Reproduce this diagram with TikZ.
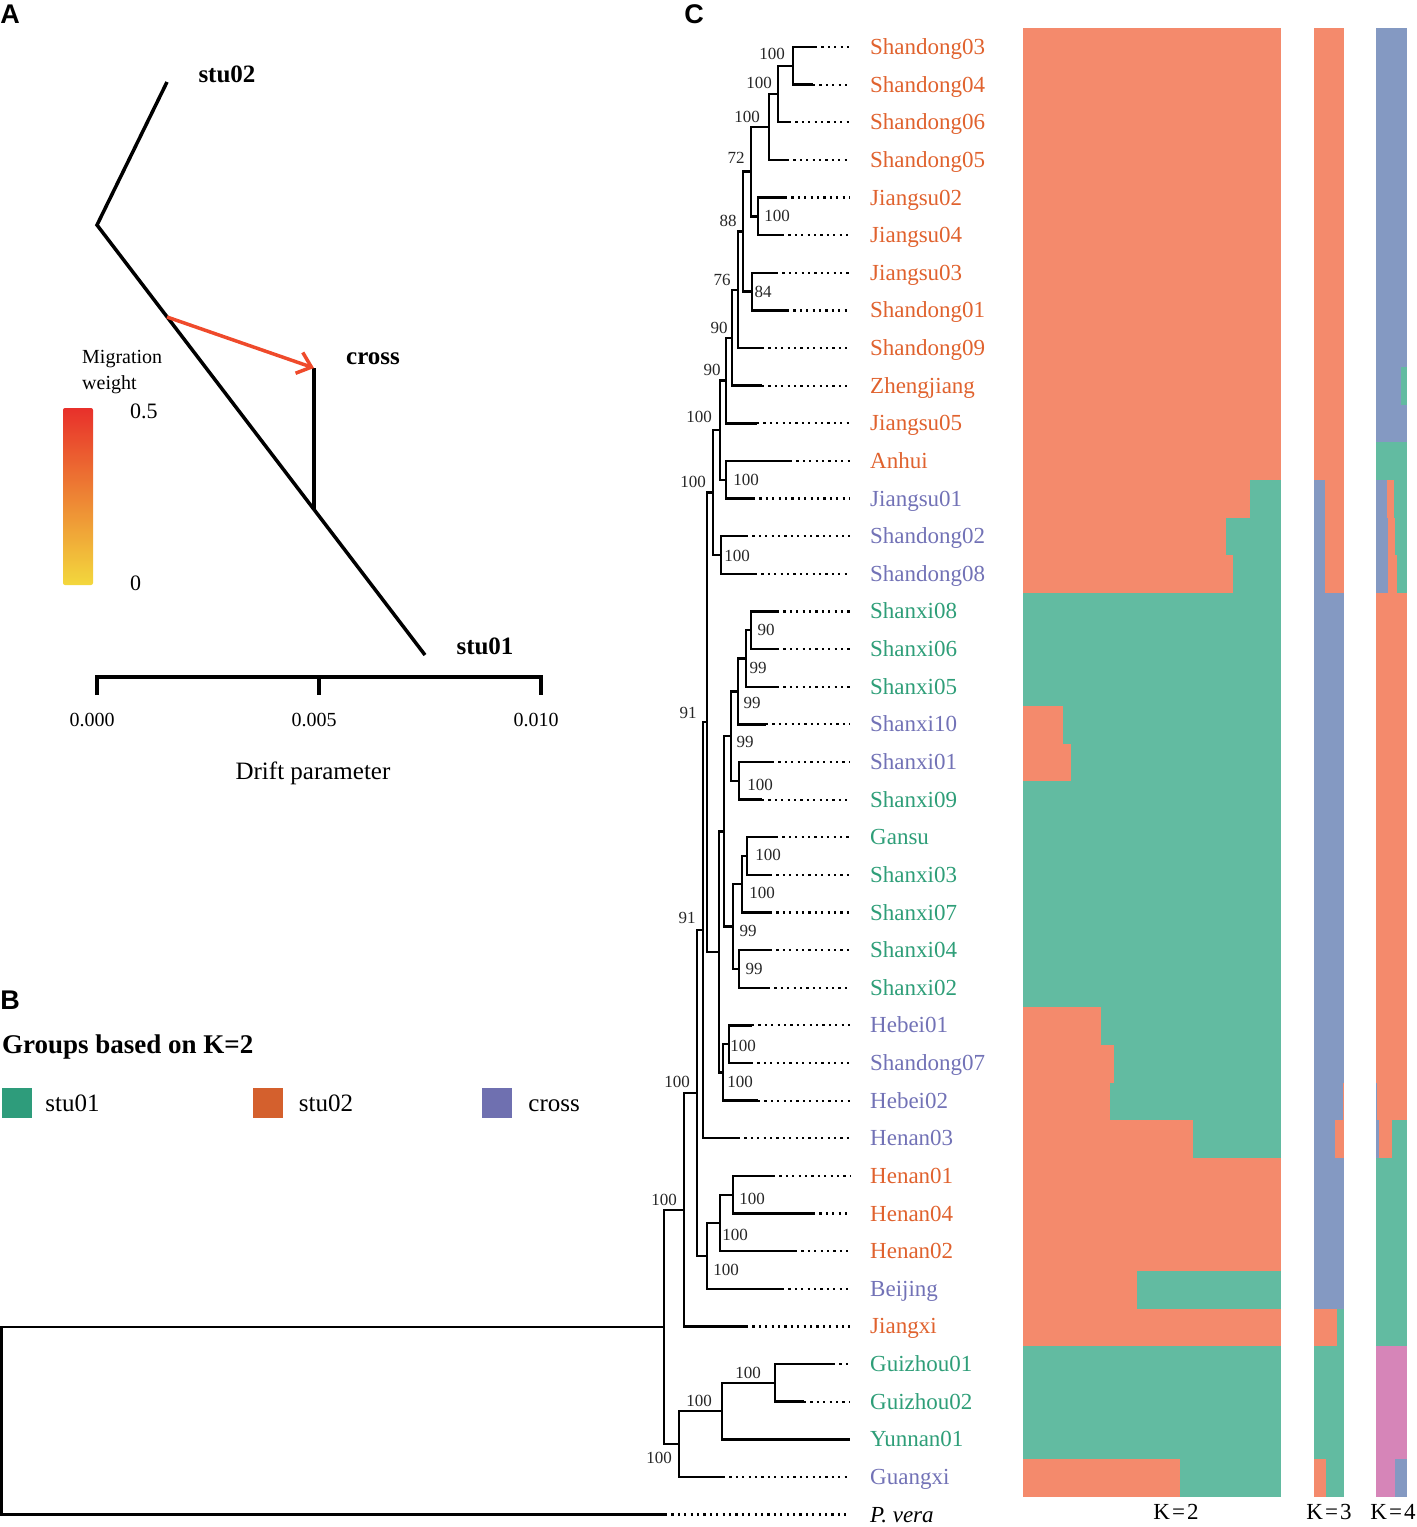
\documentclass[tikz,border=0pt]{standalone}
\usepackage{fontspec}
\setmainfont{Liberation Serif}
\setsansfont{Liberation Sans}
\usetikzlibrary{calc,positioning,arrows.meta}
\definecolor{korange}{HTML}{F48A6C}
\definecolor{kgreen}{HTML}{62BBA1}
\definecolor{kblue}{HTML}{8499C2}
\definecolor{kpink}{HTML}{D685B8}
\definecolor{txor}{HTML}{E0622E}
\definecolor{txbl}{HTML}{7272B6}
\definecolor{txgr}{HTML}{2E9E78}
\definecolor{legr}{HTML}{2E9C7B}
\definecolor{leor}{HTML}{D4602D}
\definecolor{lebl}{HTML}{6F70B0}
\definecolor{migred}{HTML}{EF4A2B}
\definecolor{cbtop}{HTML}{E8302B}
\definecolor{cbmid}{HTML}{F08A35}
\definecolor{cbbot}{HTML}{F3D83D}
\tikzset{
  branch/.style = {line width=2.4pt},
  dots/.style = {line width=2.2pt, dash pattern=on 2.2pt off 4.2pt},
  taxon/.style = {anchor=west, inner xsep=20pt, inner ysep=0pt,
    text height=15pt, text depth=0pt, font=\fontsize{23}{27}\selectfont},
  boot/.style = {inner sep=0pt, text=black!85, font=\fontsize{17}{20}\selectfont},
  panel/.style = {inner sep=0pt, font=\sffamily\bfseries\fontsize{27}{30}\selectfont},
  popname/.style = {inner sep=0pt, font=\bfseries\fontsize{25}{28}\selectfont},
  drift/.style = {line width=3.5pt},
  migration/.style = {line width=3.5pt, migred, -{Straight Barb[length=13pt,width=22pt]}},
  ticklab/.style = {inner sep=0pt, font=\fontsize{20}{24}\selectfont},
  legbox/.style = {minimum width=30pt, minimum height=30pt, inner sep=0pt},
  legtext/.style = {inner sep=0pt, text height=16pt, text depth=0pt, font=\fontsize{25}{28}\selectfont},
  klab/.style = {inner sep=0pt, font=\fontsize{23}{27}\selectfont}
}
% tip of the tree: name, row, end of solid branch, colour, text
\newcommand\leaf[5]{%
  \coordinate (#1) at (#3,{47+37.63*#2});
  \node[taxon,text=#4] (#1-name) at (850,{47+37.63*#2}) {#5};
  \draw[dots] (#1) -- (#1-name);
}
% inner node: name, x, two children
\newcommand\clade[4]{%
  \path let \p1=(#3), \p2=(#4) in (#2pt,{0.5*(\y1+\y2)}) coordinate (#1);
  \draw[branch] (#3) -| (#1) |- (#4);
}
% bar segment: colour, x from, x to, first row, last row
\newcommand\seg[5]{\fill[#1] (#2,{28+37.667*#4}) rectangle (#3,{28+37.667*(#5+1)});}

\begin{document}
\begin{tikzpicture}[x=1pt,y=-1pt]
\useasboundingbox (0,0) rectangle (1417,1527);

% ---- A: treemix
\node[panel] (pA) at (10,14) {A};
\coordinate (s2tip) at (167,82);
\coordinate (rootA) at (97,225);
\coordinate (s1tip) at (425,655);
\coordinate (crossbase) at (314,509.5);
\coordinate (crosstip) at (314,368);
\coordinate (migfrom) at (167,317);
\draw[drift] (s2tip) -- (rootA) -- (s1tip);
\draw[drift] (crossbase) -- (crosstip);
\draw[migration] (migfrom) -- (crosstip);
\node[popname] (stu02) at (227,74) {stu02};
\node[popname] (cross) at (373,359) {cross};
\node[popname] (stu01) at (485,646) {stu01};
\node[anchor=west, align=left, inner sep=0pt, font=\fontsize{20}{26}\selectfont] (migw) at (82,372) {Migration\\weight};
\shade[top color=cbtop, middle color=cbmid, bottom color=cbbot, rounded corners=2pt] (63,408) rectangle (93,585);
\node[anchor=west, inner sep=0pt, font=\fontsize{22}{26}\selectfont] (wmax) at (130,411) {0.5};
\node[anchor=west, inner sep=0pt, font=\fontsize{22}{26}\selectfont] (wmin) at (130,583) {0};
\draw[drift] (97,695) -- (97,677) -- (541,677) -- (541,695);
\draw[drift] (319,677) -- (319,695);
\node[ticklab] (t0) at (92,720) {0.000};
\node[ticklab] (t1) at (314,720) {0.005};
\node[ticklab] (t2) at (536,720) {0.010};
\node[inner sep=0pt, font=\fontsize{25}{28}\selectfont] (xlab) at (313,773) {Drift parameter};

% ---- B: legend
\node[panel] (pB) at (10,1000) {B};
\node[anchor=west, inner sep=0pt, font=\bfseries\fontsize{27}{30}\selectfont] (ltitle) at (2,1047) {Groups based on K=2};
\node[legbox, fill=legr] (g1) at (17,1103) {};
\node[legtext, right=13pt of g1] {stu01};
\node[legbox, fill=leor] (g2) at (267.5,1103) {};
\node[legtext, right=16pt of g2] {stu02};
\node[legbox, fill=lebl] (g3) at (497,1103) {};
\node[legtext, right=16pt of g3] {cross};

% ---- C: tree
\node[panel] (pC) at (694,14) {C};
\leaf{sd03}{0}{815}{txor}{Shandong03}
\leaf{sd04}{1}{813}{txor}{Shandong04}
\leaf{sd06}{2}{789}{txor}{Shandong06}
\leaf{sd05}{3}{787}{txor}{Shandong05}
\leaf{js02}{4}{785}{txor}{Jiangsu02}
\leaf{js04}{5}{782}{txor}{Jiangsu04}
\leaf{js03}{6}{776}{txor}{Jiangsu03}
\leaf{sd01}{7}{787}{txor}{Shandong01}
\leaf{sd09}{8}{762}{txor}{Shandong09}
\leaf{zj}{9}{762}{txor}{Zhengjiang}
\leaf{js05}{10}{757}{txor}{Jiangsu05}
\leaf{ah}{11}{790}{txor}{Anhui}
\leaf{js01}{12}{753}{txbl}{Jiangsu01}
\leaf{sd02}{13}{746}{txbl}{Shandong02}
\leaf{sd08}{14}{755}{txbl}{Shandong08}
\leaf{sx08}{15}{777}{txgr}{Shanxi08}
\leaf{sx06}{16}{777}{txgr}{Shanxi06}
\leaf{sx05}{17}{777}{txgr}{Shanxi05}
\leaf{sx10}{18}{766}{txbl}{Shanxi10}
\leaf{sx01}{19}{772}{txbl}{Shanxi01}
\leaf{sx09}{20}{762}{txgr}{Shanxi09}
\leaf{gs}{21}{776}{txgr}{Gansu}
\leaf{sx03}{22}{770}{txgr}{Shanxi03}
\leaf{sx07}{23}{770}{txgr}{Shanxi07}
\leaf{sx04}{24}{770}{txgr}{Shanxi04}
\leaf{sx02}{25}{768}{txgr}{Shanxi02}
\leaf{hb01}{26}{752}{txbl}{Hebei01}
\leaf{sd07}{27}{751}{txbl}{Shandong07}
\leaf{hb02}{28}{758}{txbl}{Hebei02}
\leaf{hn03}{29}{738}{txbl}{Henan03}
\leaf{hn01}{30}{773}{txor}{Henan01}
\leaf{hn04}{31}{813}{txor}{Henan04}
\leaf{hn02}{32}{795}{txor}{Henan02}
\leaf{bj}{33}{782}{txbl}{Beijing}
\leaf{jx}{34}{746}{txor}{Jiangxi}
\leaf{gz01}{35}{833}{txgr}{Guizhou01}
\leaf{gz02}{36}{804}{txgr}{Guizhou02}
\leaf{yn01}{37}{850}{txgr}{Yunnan01}
\leaf{gx}{38}{723}{txbl}{Guangxi}
\leaf{pv}{39}{665}{black}{\textit{P. vera}}

\clade{c1}{793}{sd03}{sd04}
\clade{c2}{778}{c1}{sd06}
\clade{c3}{769}{c2}{sd05}
\clade{c4}{758}{js02}{js04}
\clade{c5}{751}{c3}{c4}
\clade{c6}{752}{js03}{sd01}
\clade{c7}{743}{c5}{c6}
\clade{c8}{738}{c7}{sd09}
\clade{c9}{732}{c8}{zj}
\clade{c10}{726}{c9}{js05}
\clade{c11}{726}{ah}{js01}
\clade{c12}{720}{c10}{c11}
\clade{c13}{721}{sd02}{sd08}
\clade{c14}{713}{c12}{c13}
\clade{c15}{751}{sx08}{sx06}
\clade{c16}{746}{c15}{sx05}
\clade{c17}{738}{c16}{sx10}
\clade{c18}{739}{sx01}{sx09}
\clade{c19}{731}{c17}{c18}
\clade{c20}{747}{gs}{sx03}
\clade{c21}{742}{c20}{sx07}
\clade{c22}{739}{sx04}{sx02}
\clade{c23}{733}{c21}{c22}
\clade{c24}{724}{c19}{c23}
\clade{c25}{729}{hb01}{sd07}
\clade{c26}{723}{c25}{hb02}
\clade{c27}{719}{c24}{c26}
\clade{c28}{707}{c14}{c27}
\clade{c29}{703}{c28}{hn03}
\clade{c30}{733}{hn01}{hn04}
\clade{c31}{720}{c30}{hn02}
\clade{c32}{707}{c31}{bj}
\clade{c33}{697}{c29}{c32}
\clade{c34}{684}{c33}{jx}
\clade{c35}{775}{gz01}{gz02}
\clade{c36}{722}{c35}{yn01}
\clade{c37}{679}{c36}{gx}
\clade{c38}{664}{c34}{c37}
\clade{root}{1.5}{c38}{pv}

% bootstrap values
\node[boot] (b1) at (772,54) {100};
\node[boot] (b2) at (759,83) {100};
\node[boot] (b3) at (747,117) {100};
\node[boot] (b4) at (777,216) {100};
\node[boot] (b5) at (736,158) {72};
\node[boot] (b6) at (763,292) {84};
\node[boot] (b7) at (728,221) {88};
\node[boot] (b8) at (722,280) {76};
\node[boot] (b9) at (719,328) {90};
\node[boot] (b10) at (712,370) {90};
\node[boot] (b11) at (746,480) {100};
\node[boot] (b12) at (699,417) {100};
\node[boot] (b13) at (737,556) {100};
\node[boot] (b14) at (693,482) {100};
\node[boot] (b15) at (766,630) {90};
\node[boot] (b16) at (758,668) {99};
\node[boot] (b17) at (752,703) {99};
\node[boot] (b18) at (760,785) {100};
\node[boot] (b19) at (745,742) {99};
\node[boot] (b20) at (768,855) {100};
\node[boot] (b21) at (762,893) {100};
\node[boot] (b22) at (754,969) {99};
\node[boot] (b23) at (748,931) {99};
\node[boot] (b25) at (743,1046) {100};
\node[boot] (b26) at (740,1082) {100};
\node[boot] (b28) at (688,713) {91};
\node[boot] (b29) at (687,918) {91};
\node[boot] (b30) at (752,1199) {100};
\node[boot] (b31) at (735,1235) {100};
\node[boot] (b32) at (726,1270) {100};
\node[boot] (b33) at (677,1082) {100};
\node[boot] (b34) at (664,1200) {100};
\node[boot] (b35) at (748,1373) {100};
\node[boot] (b36) at (699,1401) {100};
\node[boot] (b37) at (659,1458) {100};

% admixture bars, K=2
\seg{korange}{1023}{1281}{0}{38}
\seg{kgreen}{1250}{1281}{12}{12}
\seg{kgreen}{1226}{1281}{13}{13}
\seg{kgreen}{1233}{1281}{14}{14}
\seg{kgreen}{1023}{1281}{15}{17}
\seg{kgreen}{1063}{1281}{18}{18}
\seg{kgreen}{1071}{1281}{19}{19}
\seg{kgreen}{1023}{1281}{20}{25}
\seg{kgreen}{1101}{1281}{26}{26}
\seg{kgreen}{1114}{1281}{27}{27}
\seg{kgreen}{1110}{1281}{28}{28}
\seg{kgreen}{1193}{1281}{29}{29}
\seg{kgreen}{1137}{1281}{33}{33}
\seg{kgreen}{1023}{1281}{35}{37}
\seg{kgreen}{1180}{1281}{38}{38}
% K=3
\seg{korange}{1314}{1344}{0}{38}
\seg{kblue}{1314}{1325}{12}{14}
\seg{kblue}{1314}{1344}{15}{27}
\seg{kblue}{1314}{1343}{28}{28}
\seg{kblue}{1314}{1335}{29}{29}
\seg{kblue}{1314}{1344}{30}{33}
\seg{kgreen}{1337}{1344}{34}{34}
\seg{kgreen}{1314}{1344}{35}{37}
\seg{kgreen}{1326}{1344}{38}{38}
% K=4
\seg{kblue}{1376}{1407}{0}{38}
\seg{kgreen}{1401}{1407}{9}{9}
\seg{kgreen}{1376}{1407}{11}{11}
\seg{korange}{1387}{1394}{12}{12}
\seg{kgreen}{1394}{1407}{12}{12}
\seg{korange}{1388}{1395}{13}{13}
\seg{kgreen}{1395}{1407}{13}{13}
\seg{korange}{1388}{1397}{14}{14}
\seg{kgreen}{1397}{1407}{14}{14}
\seg{korange}{1376}{1407}{15}{27}
\seg{korange}{1377}{1407}{28}{28}
\seg{korange}{1379}{1392}{29}{29}
\seg{kgreen}{1392}{1407}{29}{29}
\seg{kgreen}{1376}{1407}{30}{34}
\seg{kpink}{1376}{1407}{35}{37}
\seg{kpink}{1376}{1395}{38}{38}
\node[klab] (k2) at (1176,1512) {K\kern2pt=\kern2pt2};
\node[klab] (k3) at (1329,1512) {K\kern2pt=\kern2pt3};
\node[klab] (k4) at (1393,1512) {K\kern2pt=\kern2pt4};
\end{tikzpicture}
\end{document}
